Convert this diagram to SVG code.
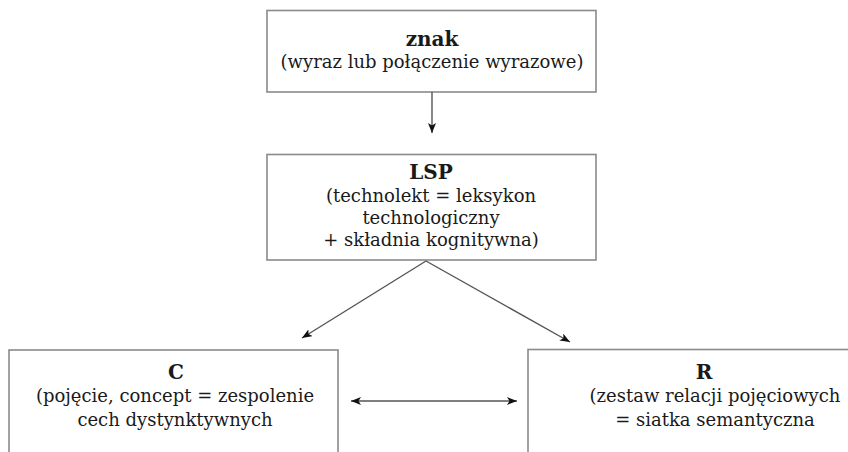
<svg xmlns="http://www.w3.org/2000/svg" width="848" height="452" viewBox="0 0 848 452">
  <defs>
    <marker id="head" viewBox="0 0 10 8" refX="10" refY="4" markerWidth="10" markerHeight="8" markerUnits="userSpaceOnUse" orient="auto-start-reverse">
      <path d="M0,0 L10,4 L0,8 L2.5,4 Z" fill="#111"/>
    </marker>
    <style>
      .box { fill: #fff; stroke: #8a8a8a; stroke-width: 1.6; }
      .t { font-family: "DejaVu Serif", "Liberation Serif", serif; font-size: 18px; fill: #1a1a1a; text-anchor: middle; }
      .b { font-weight: bold; font-size: 20px; }
      .edge { stroke: #555; stroke-width: 1.4; fill: none; }
    </style>
  </defs>
  <rect width="848" height="452" fill="#fff"/>

  <g id="znak">
    <rect class="box" x="267" y="10.5" width="329" height="81.5"/>
    <text class="t b" x="432" y="46">znak</text>
    <text class="t" x="432" y="68">(wyraz lub połączenie wyrazowe)</text>
  </g>

  <g id="lsp">
    <rect class="box" x="267" y="154.5" width="329" height="105.5"/>
    <text class="t b" x="431" y="179">LSP</text>
    <text class="t" x="431" y="202">(technolekt = leksykon</text>
    <text class="t" x="431" y="224">technologiczny</text>
    <text class="t" x="431" y="246">+ składnia kognitywna)</text>
  </g>

  <g id="c">
    <rect class="box" x="9" y="350" width="329" height="120"/>
    <text class="t b" x="176" y="379">C</text>
    <text class="t" x="175" y="402">(pojęcie, concept = zespolenie</text>
    <text class="t" x="175" y="426">cech dystynktywnych</text>
  </g>

  <g id="r">
    <rect class="box" x="528" y="349.5" width="340" height="120"/>
    <text class="t b" x="704" y="379">R</text>
    <text class="t" x="715" y="402">(zestaw relacji pojęciowych</text>
    <text class="t" x="715" y="426">= siatka semantyczna</text>
  </g>

  <g id="connectors">
    <line class="edge" x1="432" y1="92" x2="432" y2="133" marker-end="url(#head)"/>
    <line class="edge" x1="426" y1="261" x2="302" y2="338" marker-end="url(#head)"/>
    <line class="edge" x1="426" y1="261" x2="570" y2="342" marker-end="url(#head)"/>
    <line class="edge" x1="351" y1="401" x2="517" y2="401" marker-start="url(#head)" marker-end="url(#head)"/>
  </g>
</svg>
